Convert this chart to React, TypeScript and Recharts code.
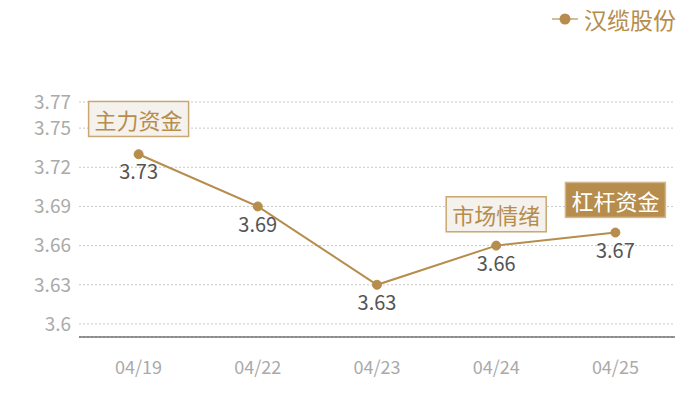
import React from 'react';
import { LineChart, Line, XAxis, YAxis, CartesianGrid, Legend, LabelList, ReferenceDot } from 'recharts';

const categories = ['04/19', '04/22', '04/23', '04/24', '04/25'];
const prices = [3.73, 3.69, 3.63, 3.66, 3.67];
const yTicks = [3.6, 3.63, 3.66, 3.69, 3.72, 3.75, 3.77];
const seriesName = '汉缆股份';
const notes = [
  { x: '04/19', y: 3.757, text: '主力资金', filled: false },
  { x: '04/24', y: 3.684, text: '市场情绪', filled: false },
  { x: '04/25', y: 3.695, text: '杠杆资金', filled: true },
];

const data = categories.map((c, i) => ({ date: c, price: prices[i] }));

const GOLD = '#b68d4c';
const FONT = '"Noto Sans CJK SC", "Noto Sans", sans-serif';

const NoteBox = (text: string, filled: boolean) => (props: any) => {
  const { cx, cy } = props;
  const w = 100;
  const h = 35;
  return (
    <g>
      <rect x={cx - w / 2} y={cy - h / 2} width={w} height={h}
        fill={filled ? GOLD : '#f5f1ec'} stroke={filled ? '#d2b88e' : '#c9a772'} strokeWidth={1.5} />
      <text x={cx} y={cy} textAnchor="middle" dominantBaseline="central"
        fontSize={22} fontFamily={FONT} fill={filled ? '#ffffff' : GOLD}>{text}</text>
    </g>
  );
};

const LegendContent = () => (
  <div style={{ display: 'flex', alignItems: 'center', fontFamily: FONT }}>
    <svg width={26} height={20}>
      <line x1={0} y1={10} x2={26} y2={10} stroke="#d4bc94" strokeWidth={2} />
      <circle cx={13} cy={10} r={5.5} fill={GOLD} />
    </svg>
    <span style={{ color: GOLD, fontSize: 23, marginLeft: 6 }}>{seriesName}</span>
  </div>
);

export default function App() {
  return (
    <div style={{ position: 'absolute', left: 0, top: 0 }}>
      <LineChart width={700} height={400} data={data}
        margin={{ top: 68, right: 25, bottom: 0, left: 0 }}>
        <Legend verticalAlign="top" align="right" content={LegendContent}
          wrapperStyle={{ position: 'absolute', top: 2, right: 24, width: 'auto', left: 'auto' }} />
        <CartesianGrid horizontal vertical={false} stroke="#c8c8c8" strokeDasharray="2 2" />
        <XAxis dataKey="date" padding={{ left: 59.6, right: 59.6 }} axisLine={{ stroke: '#333', strokeWidth: 1.2 }}
          tickLine={false} tickMargin={18} height={63}
          tick={{ fill: '#aaaaaa', fontSize: 18, fontFamily: FONT }} />
        <YAxis domain={[3.59, 3.77]} ticks={yTicks} interval={0} width={79} axisLine={false} tickLine={false}
          tick={{ fill: '#aaaaaa', fontSize: 19, fontFamily: FONT }} />
        <Line type="linear" dataKey="price" name={seriesName} stroke={GOLD} strokeWidth={2}
          dot={{ r: 4.5, fill: GOLD, stroke: GOLD, strokeWidth: 1 }} isAnimationActive={false}>
          <LabelList dataKey="price" position="bottom" offset={11} fill="#555555" fontSize={20} fontFamily={FONT} />
        </Line>
        {notes.map((n) => (
          <ReferenceDot key={n.text} x={n.x} y={n.y} ifOverflow="visible" shape={NoteBox(n.text, n.filled)} />
        ))}
      </LineChart>
    </div>
  );
}
